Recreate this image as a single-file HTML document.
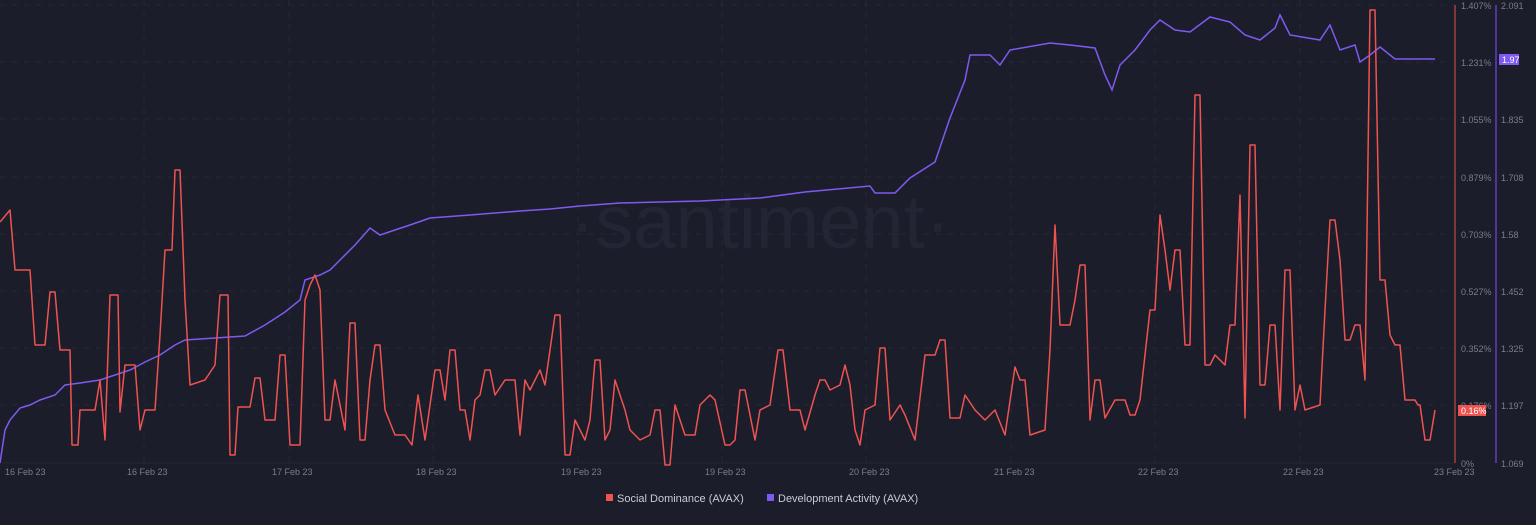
<!DOCTYPE html>
<html><head><style>
body{margin:0;background:#1b1d2b;width:1536px;height:520px;overflow:hidden;font-family:"Liberation Sans",sans-serif}
svg text{font-family:"Liberation Sans",sans-serif}
</style></head><body>
<svg width="1536" height="520" xmlns="http://www.w3.org/2000/svg">
<rect width="1536" height="520" fill="#1b1d2b"/>
<g stroke="#252836" stroke-dasharray="6 6" stroke-width="1">
<line x1="0" y1="5" x2="1455" y2="5"/><line x1="0" y1="62" x2="1455" y2="62"/><line x1="0" y1="119" x2="1455" y2="119"/><line x1="0" y1="177" x2="1455" y2="177"/><line x1="0" y1="234" x2="1455" y2="234"/><line x1="0" y1="291" x2="1455" y2="291"/><line x1="0" y1="348" x2="1455" y2="348"/><line x1="0" y1="405" x2="1455" y2="405"/>
<line x1="144" y1="0" x2="144" y2="463"/><line x1="289" y1="0" x2="289" y2="463"/><line x1="433" y1="0" x2="433" y2="463"/><line x1="578" y1="0" x2="578" y2="463"/><line x1="722" y1="0" x2="722" y2="463"/><line x1="866" y1="0" x2="866" y2="463"/><line x1="1011" y1="0" x2="1011" y2="463"/><line x1="1155" y1="0" x2="1155" y2="463"/><line x1="1300" y1="0" x2="1300" y2="463"/>
</g>
<line x1="0" y1="463" x2="1455" y2="463" stroke="#252836"/>
<text x="760" y="248" font-size="76" fill="#222533" text-anchor="middle">·santiment·</text>
<polyline fill="none" stroke="#7f5af0" stroke-width="1.5" points="0,463 5,430 10,420 20,408 30,405 40,400 55,395 65,385 80,383 100,380 115,375 130,370 145,362 160,355 175,345 185,340 215,338 245,336 265,325 285,312 300,300 305,280 320,275 330,270 340,260 355,245 370,228 380,235 395,230 410,225 430,218 470,215 520,211 550,209 580,206 620,203 700,201 760,198 805,192 870,186 875,193 895,193 910,178 935,162 950,118 965,80 970,55 990,55 1000,65 1010,50 1050,43 1070,45 1095,48 1105,75 1112,90 1120,65 1135,50 1150,30 1160,20 1175,30 1190,32 1210,17 1230,22 1245,35 1260,40 1275,28 1280,15 1290,35 1320,40 1330,25 1340,50 1355,45 1360,62 1370,55 1380,47 1395,59 1435,59"/>
<polyline fill="none" stroke="#ef5350" stroke-width="1.5" stroke-linejoin="round" points="0,222 10,210 15,270 30,270 35,345 45,345 50,292 55,292 60,350 70,350 72,445 78,445 80,410 95,410 100,380 105,440 110,295 118,295 120,412 125,365 135,365 140,430 145,410 155,410 160,335 165,250 172,250 175,170 180,170 185,300 190,385 205,380 215,365 220,295 228,295 230,455 235,455 238,407 250,407 255,378 260,378 265,420 275,420 280,355 285,355 290,445 300,445 305,300 310,285 315,275 320,290 325,420 330,420 335,380 345,430 350,323 355,323 360,440 365,440 370,380 375,345 380,345 385,410 395,435 405,435 412,445 418,395 425,440 435,370 440,370 445,400 450,350 455,350 460,410 465,410 470,440 475,400 480,395 485,370 490,370 495,395 505,380 515,380 520,435 525,380 530,390 540,370 545,385 555,315 560,315 565,455 570,455 575,420 585,440 590,420 595,360 600,360 605,440 610,430 615,380 625,410 630,430 640,440 650,435 655,410 660,410 665,465 670,465 675,405 685,435 695,435 700,405 710,395 715,400 725,445 730,445 735,440 740,390 745,390 755,440 760,410 770,405 778,350 783,350 790,410 800,410 805,430 815,395 820,380 825,380 830,390 840,385 845,365 850,385 855,430 860,445 865,410 875,405 880,348 885,348 890,420 900,405 905,415 915,440 925,355 935,355 940,340 945,340 950,418 960,418 965,395 975,410 985,420 995,410 1005,435 1015,367 1020,380 1025,380 1030,435 1045,430 1050,350 1055,225 1060,325 1070,325 1075,300 1080,265 1085,265 1090,420 1095,380 1100,380 1105,418 1115,400 1125,400 1130,415 1135,415 1140,400 1150,310 1155,310 1160,215 1165,250 1170,290 1175,250 1180,250 1185,345 1190,345 1195,95 1200,95 1205,365 1210,365 1215,355 1225,365 1230,325 1235,325 1240,195 1245,418 1250,145 1255,145 1260,385 1265,385 1270,325 1275,325 1280,410 1285,270 1290,270 1295,410 1300,385 1305,410 1320,405 1325,310 1330,220 1335,220 1340,260 1345,340 1350,340 1355,325 1360,325 1365,380 1370,10 1375,10 1380,280 1385,280 1390,335 1395,345 1400,345 1405,400 1415,400 1418,405 1420,405 1425,440 1430,440 1435,410"/>
<line x1="1455" y1="5" x2="1455" y2="463" stroke="#a14040" stroke-width="1.5"/>
<line x1="1496" y1="5" x2="1496" y2="463" stroke="#6040c0" stroke-width="1.5"/>
<g font-size="9" fill="#7a7d8c">
<text x="1461" y="9">1.407%</text><text x="1461" y="66">1.231%</text><text x="1461" y="123">1.055%</text><text x="1461" y="181">0.879%</text><text x="1461" y="238">0.703%</text><text x="1461" y="295">0.527%</text><text x="1461" y="352">0.352%</text><text x="1461" y="409">0.176%</text><text x="1461" y="467">0%</text>
<text x="1501" y="9">2.091</text><text x="1501" y="123">1.835</text><text x="1501" y="181">1.708</text><text x="1501" y="238">1.58</text><text x="1501" y="295">1.452</text><text x="1501" y="352">1.325</text><text x="1501" y="409">1.197</text><text x="1501" y="467">1.069</text>
<text x="5" y="475">16 Feb 23</text><text x="127" y="475">16 Feb 23</text><text x="272" y="475">17 Feb 23</text><text x="416" y="475">18 Feb 23</text><text x="561" y="475">19 Feb 23</text><text x="705" y="475">19 Feb 23</text><text x="849" y="475">20 Feb 23</text><text x="994" y="475">21 Feb 23</text><text x="1138" y="475">22 Feb 23</text><text x="1283" y="475">22 Feb 23</text><text x="1434" y="475">23 Feb 23</text>
</g>
<rect x="1499" y="54" width="20" height="11" fill="#7f5af0"/><text x="1502" y="63" font-size="9" fill="#fff">1.97</text>
<rect x="1458" y="405" width="28" height="11" fill="#ef5350"/><text x="1461" y="414" font-size="9" fill="#fff">0.16%</text>
<rect x="606" y="494" width="7" height="7" fill="#ef5350"/><text x="617" y="502" font-size="11" fill="#c8cad6">Social Dominance (AVAX)</text>
<rect x="767" y="494" width="7" height="7" fill="#7f5af0"/><text x="778" y="502" font-size="11" fill="#c8cad6">Development Activity (AVAX)</text>
</svg>
</body></html>
